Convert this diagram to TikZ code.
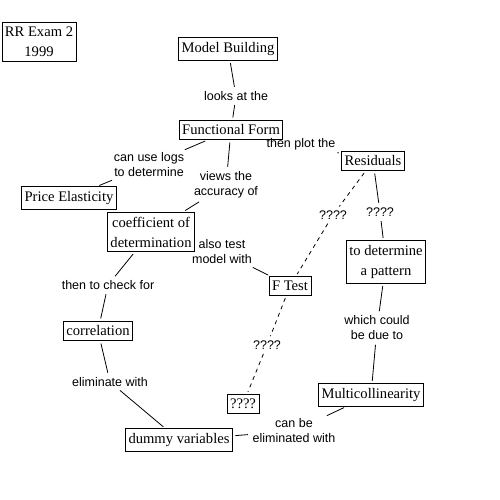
\documentclass[tikz,border=0pt]{standalone}
\usepackage{fontspec}
\setmainfont{Liberation Serif}
\setsansfont{Liberation Sans}
\begin{document}
\begin{tikzpicture}[x=1pt,y=-1pt,
  concept/.style={draw,line width=0.8pt,inner xsep=3pt,inner ysep=4.5pt,align=center,
    font=\fontsize{14.6}{20}\selectfont},
  lbl/.style={inner sep=2pt,align=center,font=\sffamily\fontsize{12.5}{15}\selectfont},
  link/.style={line width=0.8pt,shorten <=2.5pt,shorten >=2.5pt},
  dlink/.style={link,dash pattern=on 4pt off 4pt}]
\useasboundingbox (0,0) rectangle (500,500);
% concepts
\node[concept] (title) at (39,42) {RR Exam 2\\1999};
\node[concept] (mb) at (228,49) {Model Building};
\node[concept] (ff) at (231,130) {Functional Form};
\node[concept] (pe) at (69,198) {Price Elasticity};
\node[concept] (cod) at (151,232) {coefficient of\\determination};
\node[concept] (res) at (373,161) {Residuals};
\node[concept] (pat) at (386,262) {to determine\\a pattern};
\node[concept] (ft) at (290,286) {F Test};
\node[concept] (corr) at (98,331) {correlation};
\node[concept] (mc) at (371,395) {Multicollinearity};
\node[concept] (qb) at (243,404) {????};
\node[concept] (dv) at (179,440) {dummy variables};
% labels
\node[lbl] (l1) at (236,96) {looks at the};
\node[lbl] (l2) at (149,165) {can use logs\\to determine};
\node[lbl] (l3) at (226,185) {views the\\accuracy of};
\node[lbl] (l4) at (301,144) {then plot the};
\node[lbl] (q1) at (333,215) {????};
\node[lbl] (q2) at (380,212) {????};
\node[lbl] (l5) at (222,252) {also test\\model with};
\node[lbl] (l6) at (108,285) {then to check for};
\node[lbl] (l7) at (377,328) {which could\\be due to};
\node[lbl] (l8) at (110,382) {eliminate with};
\node[lbl] (q3) at (267,345) {????};
\node[lbl] (l9) at (294,431) {can be\\eliminated with};
% connectors
\draw[link] (mb) -- (l1);
\draw[link] (l1) -- (ff);
\draw[link] (ff) -- (l2);
\draw[link] (l2) -- (pe);
\draw[link] (ff) -- (l3);
\draw[link] (l3) -- (cod);
\draw[link] (l4) -- (res);
\draw[dlink] (res) -- (q1);
\draw[dlink] (q1) -- (ft);
\draw[link] (res) -- (q2);
\draw[link] (q2) -- (pat);
\draw[link] (l5) -- (ft);
\draw[link] (cod) -- (l6);
\draw[link] (l6) -- (corr);
\draw[link] (corr) -- (l8);
\draw[link] (l8) -- (dv);
\draw[link] (pat) -- (l7);
\draw[link] (l7) -- (mc);
\draw[link] (mc) -- (l9);
\draw[link] (l9) -- (dv);
\draw[dlink] (ft) -- (q3);
\draw[dlink] (q3) -- (qb);
\end{tikzpicture}
\end{document}
